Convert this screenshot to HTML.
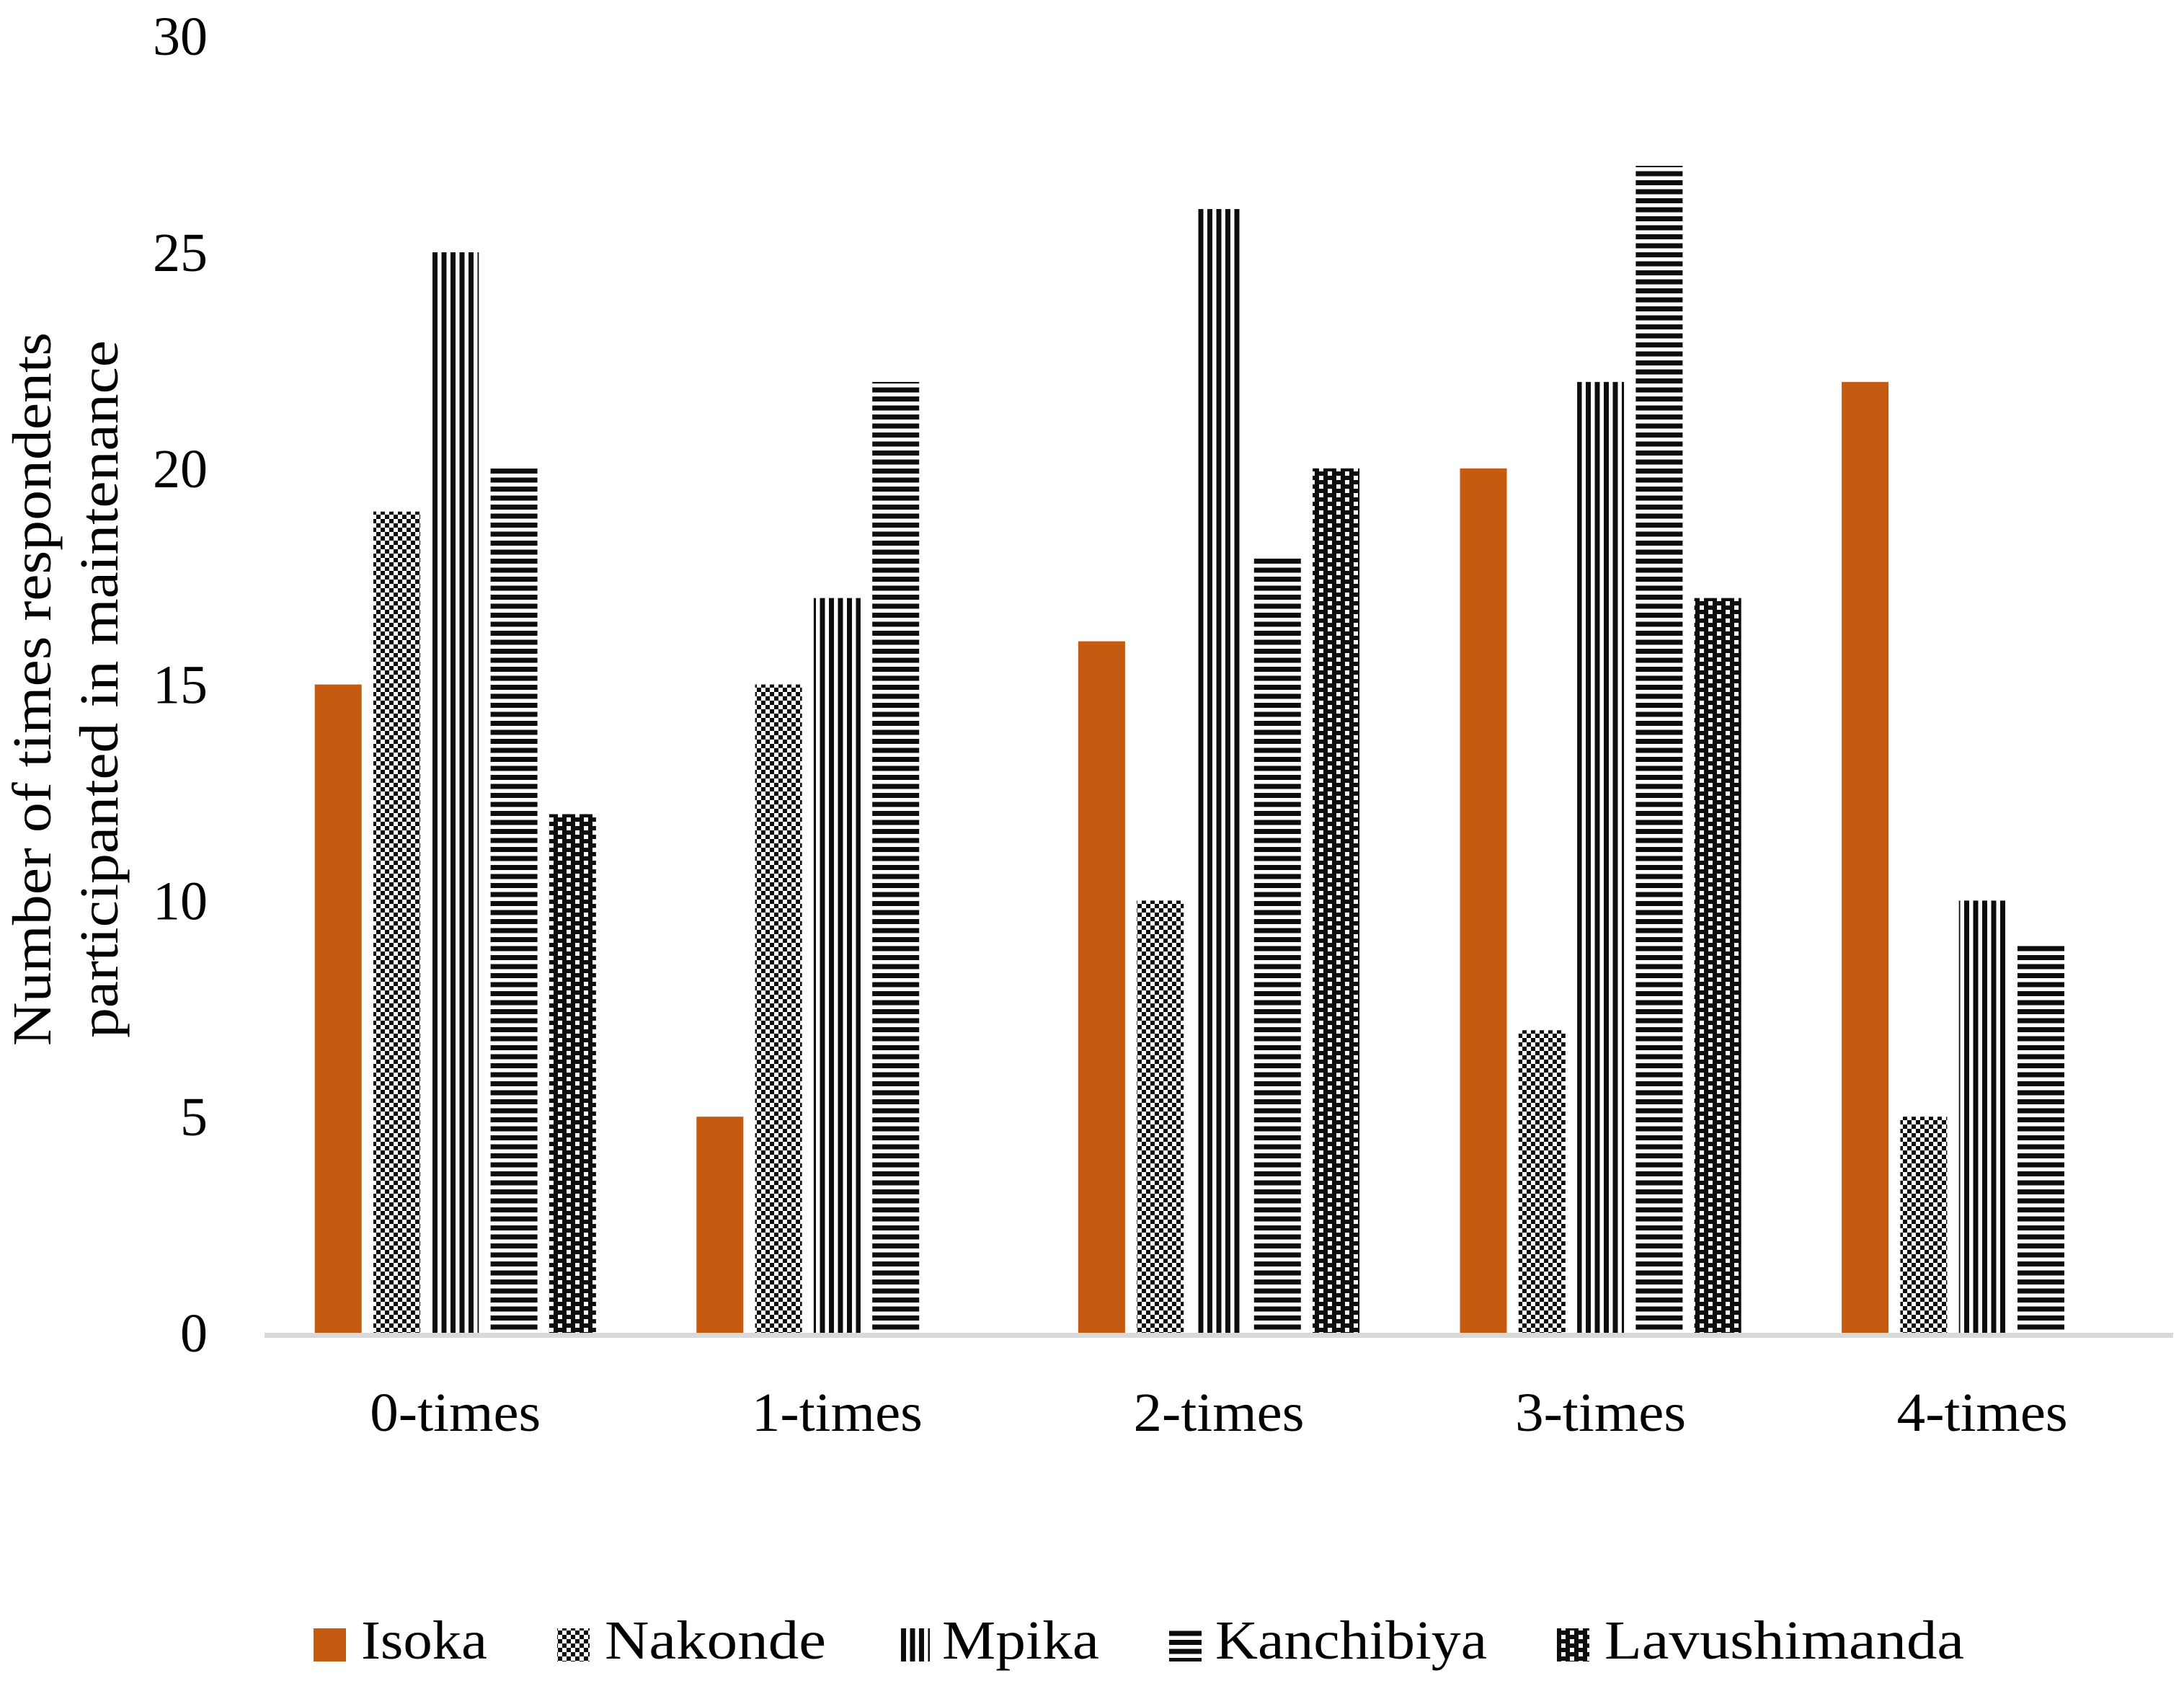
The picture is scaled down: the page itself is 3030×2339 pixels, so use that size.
<!DOCTYPE html>
<html><head><meta charset="utf-8"><style>
html,body{margin:0;padding:0;background:#fff;}
svg{display:block;}
text{font-family:"Liberation Serif",serif;fill:#000;}
</style></head><body>
<svg id="chart" width="3030" height="2339" viewBox="0 0 3030 2339" xmlns="http://www.w3.org/2000/svg">
<defs>
<pattern id="p-nakonde" patternUnits="userSpaceOnUse" width="12" height="12">
<rect width="12" height="12" fill="#fff"/>
<rect x="0" y="0" width="6" height="6" fill="#0d0d0d"/>
<rect x="6" y="6" width="6" height="6" fill="#0d0d0d"/>
</pattern>
<pattern id="p-mpika" patternUnits="userSpaceOnUse" width="12.5" height="10">
<rect width="12.5" height="10" fill="#fff"/>
<rect x="0" y="0" width="7" height="10" fill="#0d0d0d"/>
</pattern>
<pattern id="p-kanchibiya" patternUnits="userSpaceOnUse" width="10" height="12.5">
<rect width="10" height="12.5" fill="#fff"/>
<rect x="0" y="0" width="10" height="7" fill="#0d0d0d"/>
</pattern>
<pattern id="p-lavu" patternUnits="userSpaceOnUse" width="24" height="12">
<rect width="24" height="12" fill="#0d0d0d"/>
<rect x="6" y="0" width="6" height="6" fill="#fff"/>
<rect x="18" y="6" width="6" height="6" fill="#fff"/>
</pattern>
</defs>
<g id="yaxis"></g>
<g id="bars"></g>
<rect x="367" y="1849" width="2648" height="7" fill="#d9d9d9"/>
<g id="xaxis"></g>
<g>
<text transform="translate(70,956) rotate(-90)" text-anchor="middle" font-size="76" textLength="990" lengthAdjust="spacingAndGlyphs">Number of times respondents</text>
<text transform="translate(163,956) rotate(-90)" text-anchor="middle" font-size="76" textLength="968" lengthAdjust="spacingAndGlyphs">participanted in maintenance</text>
</g>
<g id="legend"></g>
</svg>
<script>
const categories = ["0-times","1-times","2-times","3-times","4-times"];
const seriesNames = ["Isoka","Nakonde","Mpika","Kanchibiya","Lavushimanda"];
const isoka = [15,5,16,20,22];
const nakonde = [19,15,10,7,5];
const mpika = [25,17,26,22,10];
const kanchibiya = [20,22,18,27,9];
const lavushimanda = [12,0,20,17,0];
const yTicks = [0,5,10,15,20,25,30];

const series = [isoka, nakonde, mpika, kanchibiya, lavushimanda];
const fills = ["#c55a11","url(#p-nakonde)","url(#p-mpika)","url(#p-kanchibiya)","url(#p-lavu)"];
const NS = "http://www.w3.org/2000/svg";
const plotL = 367, plotR = 3015, baseY = 1849, unit = 59.96;
const catW = (plotR - plotL) / categories.length;
const barW = 65, barStep = 81.3;
function y(v){ return baseY - v * unit; }
function xCat(i){ return plotL + catW * i + catW / 2; }
function xBar(i, s){ return xCat(i) - (barStep * (series.length - 1) + barW) / 2 + s * barStep; }
function mk(tag, attrs){ const e = document.createElementNS(NS, tag); for (const k in attrs) e.setAttribute(k, attrs[k]); return e; }

const yg = document.getElementById('yaxis');
yTicks.forEach(t => {
  const e = mk('text', {x: 288, y: y(t) + 26, 'text-anchor': 'end', 'font-size': 76});
  
  
  e.textContent = t;
  yg.appendChild(e);
});

const bg = document.getElementById('bars');
series.forEach((arr, s) => {
  arr.forEach((v, i) => {
    if (v <= 0) return;
    const r = mk('rect', {x: xBar(i, s), y: y(v), width: barW, height: baseY - y(v), fill: fills[s]});
    
    
    bg.appendChild(r);
  });
});

const xg = document.getElementById('xaxis');
categories.forEach((c, i) => {
  const e = mk('text', {x: xCat(i), y: 1985, 'text-anchor': 'middle', 'font-size': 76, textLength: 237, lengthAdjust: 'spacingAndGlyphs'});
  
  
  e.textContent = c;
  xg.appendChild(e);
});

const lg = document.getElementById('legend');
const legSwX = [435, 773, 1245, 1622, 2160];
const legTxX = [501, 839, 1307, 1686, 2226];
const legTxW = [175, 307, 218, 377, 499];
seriesNames.forEach((n, s) => {
  const g = mk('g', {});
  
  
  const r = mk('rect', {x: legSwX[s], y: 2259, width: 45, height: 46, fill: fills[s]});
  
  
  const t = mk('text', {x: legTxX[s], y: 2301, 'font-size': 76, textLength: legTxW[s], lengthAdjust: 'spacingAndGlyphs'});
  
  
  t.textContent = n;
  g.appendChild(r); g.appendChild(t);
  lg.appendChild(g);
});
</script>
</body></html>
